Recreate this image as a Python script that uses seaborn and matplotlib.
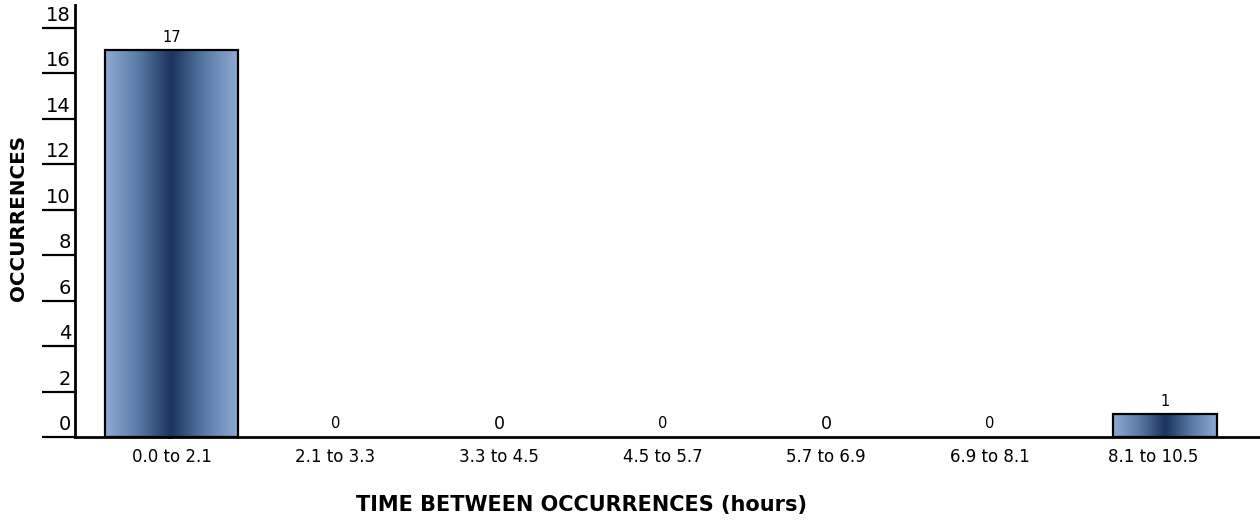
import numpy as np
import pandas as pd
import matplotlib
matplotlib.use("Agg")
import matplotlib.pyplot as plt
import matplotlib.transforms as mtransforms
from matplotlib.colors import LinearSegmentedColormap
from matplotlib.lines import Line2D
import seaborn as sns

# Histogram of time between occurrences
bins = ["0.0 to 2.1", "2.1 to 3.3", "3.3 to 4.5", "4.5 to 5.7",
        "5.7 to 6.9", "6.9 to 8.1", "8.1 to 10.5"]
counts = [17, 0, 0, 0, 0, 0, 1]
y_ticks = [0, 2, 4, 6, 8, 10, 12, 14, 16, 18]

df = pd.DataFrame({"bin": bins, "count": counts})

sns.set_theme(style="white")
plt.rcParams["font.family"] = ["DejaVu Sans"]
plt.rcParams["text.color"] = "black"

DPI = 100
fig = plt.figure(figsize=(12.6, 5.25), dpi=DPI)
ax = fig.add_axes([75 / 1260, 88 / 525, 1185 / 1260, 432 / 525])

sns.barplot(data=df, x="bin", y="count", ax=ax, width=0.81,
            color="#3b5a86", edgecolor="black", linewidth=1.6,
            saturation=1)

# horizontal light-dark-light shading inside each bar
cmap = LinearSegmentedColormap.from_list(
    "steel", ["#8eabd4", "#5a7aa6", "#1a345d", "#5a7aa6", "#8eabd4"])
grad = np.linspace(0, 1, 256).reshape(1, -1)
patches = list(ax.patches)
# the last bin is drawn a bit narrower
last = patches[-1]
cx = last.get_x() + last.get_width() / 2 + 0.07
last.set_width(0.64)
last.set_x(cx - 0.32)
for p in patches:
    h = p.get_height()
    if h <= 0:
        p.set_visible(False)
        continue
    x0, w = p.get_x(), p.get_width()
    im = ax.imshow(grad, cmap=cmap, aspect="auto",
                   extent=[x0, x0 + w, 0, h], zorder=p.get_zorder() - 0.1,
                   interpolation="bicubic")
    im.set_clip_path(p)
    p.set_facecolor("none")
    p.set_zorder(3)

ax.set_xlim(-0.59, 6.65)
ax.set_ylim(0, 19)

# value labels above bars
label_sizes = [10.5, 10.5, 12.5, 10.5, 12.5, 10.5, 10.5]
for i, (p, v) in enumerate(zip(patches, counts)):
    xc = p.get_x() + p.get_width() / 2 if v > 0 else i
    ax.annotate(str(v), (xc, v), xytext=(0, 9.5), textcoords="offset points",
                ha="center", va="center", fontsize=label_sizes[i],
                color="black")

# spines
for s in ["top", "right"]:
    ax.spines[s].set_visible(False)
for s in ["left", "bottom"]:
    ax.spines[s].set_color("black")
    ax.spines[s].set_linewidth(2.0)

# x axis line runs out to the left under the tick marks
ext = 33 / 1185
ax.add_line(Line2D([-ext, 0], [0, 0], color="black", linewidth=2.0,
                   transform=ax.get_xaxis_transform(), clip_on=False,
                   solid_capstyle="butt"))

# y ticks: long outward marks with labels sitting above them
ax.set_yticks(y_ticks)
ax.set_yticklabels([str(t) for t in y_ticks])
ax.tick_params(axis="y", direction="out", length=33 * 72 / DPI, width=1.6,
               color="black", pad=-29 * 72 / DPI, labelsize=14,
               labelcolor="black", left=True)
shift = mtransforms.ScaledTranslation(0, 12.5 / DPI, fig.dpi_scale_trans)
for lab in ax.get_yticklabels():
    lab.set_transform(lab.get_transform() + shift)
    lab.set_verticalalignment("center")

ax.tick_params(axis="x", length=0, pad=8, labelsize=12, labelcolor="black")

ax.set_xlabel("")
ax.set_ylabel("")
fig.text(19 / 1260, 1 - 218 / 525, "OCCURRENCES", rotation=90,
         ha="center", va="center", fontsize=14.3, fontweight="bold",
         color="black")
fig.text(581 / 1260, 1 - 505 / 525, "TIME BETWEEN OCCURRENCES (hours)",
         ha="center", va="center", fontsize=15, fontweight="bold",
         color="black")

fig.savefig("out.png", dpi=DPI, facecolor="white")
